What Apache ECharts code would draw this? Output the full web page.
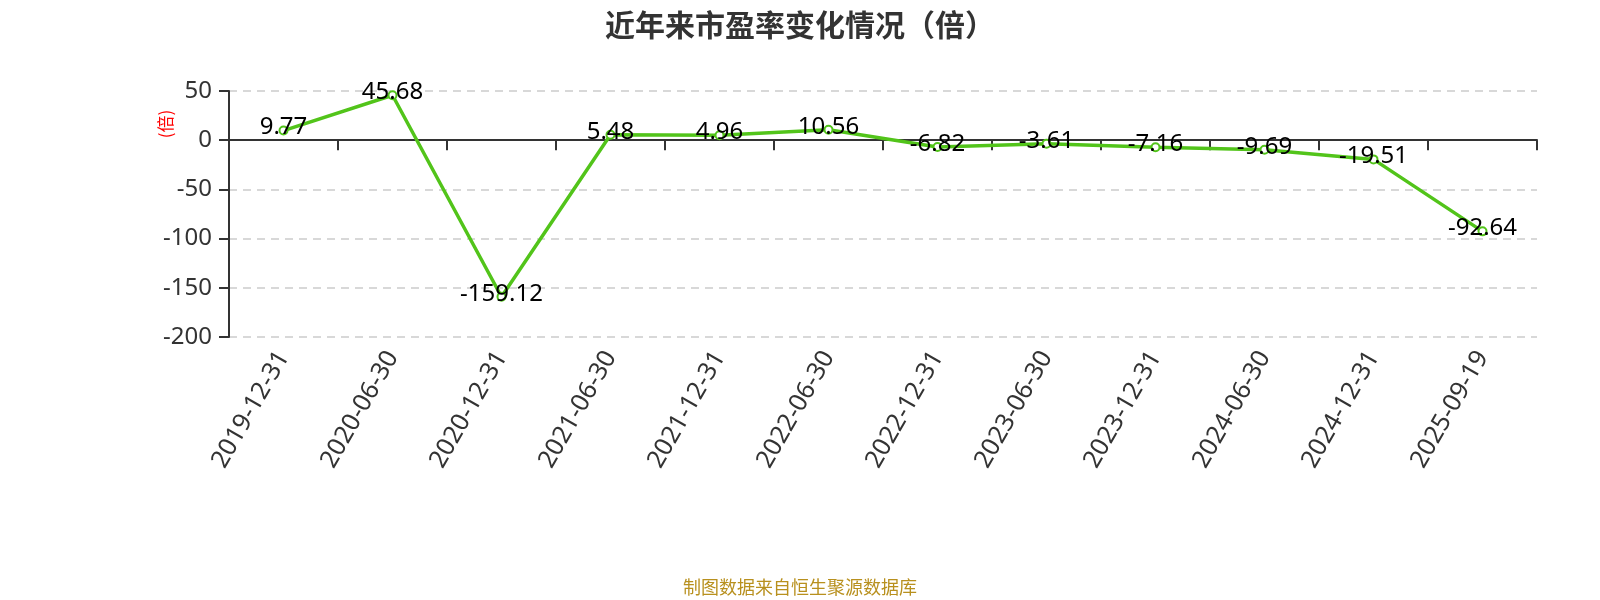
<!DOCTYPE html>
<html lang="zh">
<head>
    <meta charset="utf-8">
    <title>近年来市盈率变化情况</title>
    <script src="https://cdn.jsdelivr.net/npm/echarts@6/dist/echarts.min.js"></script>
    <style type="text/css">
        html, body {
            width: 100%;
            height: 100%;
            margin: 0px;
            padding: 0px;
            background: #fff;
        }

        #main {
            width: 1600px;
            height: 600px;
        }
    </style>
</head>
<body>
<div id="main"></div>
<script>
    // 报告期
    var dates = ['2019-12-31', '2020-06-30', '2020-12-31', '2021-06-30', '2021-12-31', '2022-06-30',
        '2022-12-31', '2023-06-30', '2023-12-31', '2024-06-30', '2024-12-31', '2025-09-19'];
    // 市盈率（倍）
    var peValues = [9.77, 45.68, -159.12, 5.48, 4.96, 10.56, -6.82, -3.61, -7.16, -9.69, -19.51, -92.64];

    var yMin = -200;
    var yMax = 50;
    var yStep = 50;

    var fontCJK = '"Noto Sans CJK SC", sans-serif';
    var fontNum = '"Noto Sans", "Noto Sans CJK SC", sans-serif';

    var myChart = echarts.init(document.getElementById('main'));

    var option = {
        backgroundColor: '#fff',
        textStyle: {
            fontFamily: fontNum
        },
        title: {
            text: '近年来市盈率变化情况（倍）',
            left: 'center',
            top: 5,
            textStyle: {
                fontSize: 30,
                fontWeight: 'bold',
                color: '#333',
                fontFamily: fontCJK
            }
        },
        grid: {
            left: 229,
            right: 63,
            top: 91,
            bottom: 263
        },
        xAxis: {
            type: 'category',
            data: dates,
            axisLine: {
                onZero: true,
                lineStyle: { color: '#333', width: 2 }
            },
            axisTick: {
                show: true,
                length: 10,
                lineStyle: { color: '#333', width: 2 }
            },
            axisLabel: {
                rotate: 60,
                fontSize: 25,
                color: '#333',
                margin: 16,
                interval: 0,
                fontFamily: fontNum
            }
        },
        yAxis: {
            type: 'value',
            min: yMin,
            max: yMax,
            interval: yStep,
            axisLine: {
                show: true,
                lineStyle: { color: '#333', width: 2 }
            },
            axisTick: {
                show: true,
                length: 10,
                lineStyle: { color: '#333', width: 2 }
            },
            axisLabel: {
                fontSize: 24,
                color: '#333',
                margin: 17,
                fontFamily: fontNum
            },
            splitLine: {
                lineStyle: { color: '#ccc', type: [8, 6], width: 1.5 }
            }
        },
        graphic: [{
            type: 'text',
            x: 166,
            y: 124,
            rotation: Math.PI / 2,
            style: {
                text: '(倍)',
                fill: '#f00',
                fontSize: 17,
                align: 'center',
                verticalAlign: 'middle',
                fontFamily: fontCJK
            }
        }, {
            type: 'text',
            left: 'center',
            top: 578,
            style: {
                text: '制图数据来自恒生聚源数据库',
                fill: '#b8901e',
                fontSize: 18,
                fontFamily: fontCJK
            }
        }],
        series: [{
            type: 'line',
            data: peValues,
            symbol: 'emptyCircle',
            symbolSize: 8,
            lineStyle: { color: '#52c41a', width: 3.5 },
            itemStyle: { color: '#52c41a', borderWidth: 2 },
            label: {
                show: true,
                position: 'inside',
                offset: [0, -3],
                color: '#000',
                fontSize: 24,
                fontFamily: fontNum
            }
        }]
    };

    myChart.setOption(option);
</script>
</body>
</html>
